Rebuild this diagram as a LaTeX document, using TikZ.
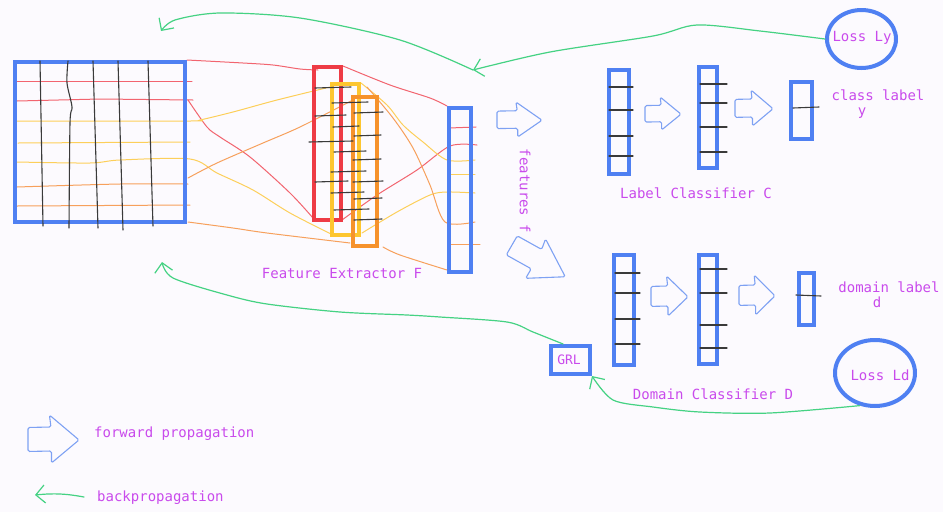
\documentclass[tikz,border=0pt]{standalone}
\usepackage{fontspec}
\setmonofont{DejaVu Sans Mono}
\usetikzlibrary{shapes.geometric,arrows.meta}
\definecolor{bblue}{HTML}{4F80F2}
\definecolor{lblue}{HTML}{7EA1F3}
\definecolor{cred}{HTML}{EE3B45}
\definecolor{tred}{HTML}{F2646F}
\definecolor{cyellow}{HTML}{FDC630}
\definecolor{tyellow}{HTML}{FCCF5A}
\definecolor{corange}{HTML}{F6922C}
\definecolor{torange}{HTML}{F7A05C}
\definecolor{cgreen}{HTML}{45D283}
\definecolor{cpurple}{HTML}{C94AEC}
\definecolor{bgc}{HTML}{FCFAFE}
\definecolor{ink}{HTML}{3A3A3A}
\tikzset{
  bbox/.style={draw=bblue, line width=4pt, inner sep=0pt},
  cbox/.style={line width=4pt, inner sep=0pt},
  lossbox/.style={ellipse, draw=bblue, line width=4pt, inner sep=0pt},
  lbl/.style={text=cpurple, font=\ttfamily\fontsize{14}{16}\selectfont, inner sep=0pt},
  tline/.style={line width=1pt, line cap=round},
  inkline/.style={draw=ink, line width=1.1pt, line cap=round},
  back/.style={draw=cgreen, line width=1.2pt, line cap=round, -{Straight Barb[length=9pt,width=18pt,line width=1.2pt]}},
  fwdarrow/.pic={\draw[draw=lblue, line width=1.1pt, line join=round, rounded corners=1.5pt]
     (0,-0.24) -- (0.45,-0.25) -- (0.42,-0.5) -- (1,0.02) -- (0.46,0.5) -- (0.46,0.25) -- (0,0.26) -- cycle;}
}
\begin{document}
\begin{tikzpicture}[x=1pt,y=-1pt]
\fill[bgc] (0,0) rectangle (943,512);
\useasboundingbox (0,0) rectangle (943,512);

% ---------- coloured thin lines ----------
% red
\draw[tline, tred] plot[smooth] coordinates {(187,60) (243,63) (273,65) (300,69) (318,70)};
\draw[tline, tred] plot[smooth] coordinates {(343,66) (390,85) (430,98) (447,106)};
\draw[tline, tred] plot[smooth] coordinates {(188,100) (207,127) (220,137) (250,157) (290,193) (313,218)};
\draw[tline, tred] plot[smooth] coordinates {(342,220) (377,195) (417,170) (450,146) (477,145)};
\draw[tline, tred] (17,81) -- (192,81);
\draw[tline, tred] (17,101) -- (100,99) -- (193,100);
\draw[tline, tred] (449,128) -- (476,127);
% yellow
\draw[tline, tyellow] plot[smooth] coordinates {(17,121) (190,121) (200,120) (233,112) (277,100) (330,87)};
\draw[tline, tyellow] plot[smooth] coordinates {(361,83) (387,105) (403,125) (423,142) (447,160) (475,160)};
\draw[tline, tyellow] (18,143) -- (190,142);
\draw[tline, tyellow] plot[smooth] coordinates {(17,162) (90,163) (120,160) (190,159) (217,173) (253,190) (290,213) (333,235)};
\draw[tline, tyellow] plot[smooth] coordinates {(362,233) (397,212) (430,195) (447,192) (475,193)};
\draw[tline, tyellow] (449,174) -- (475,174);
% orange
\draw[tline, torange] plot[smooth] coordinates {(17,187) (120,184) (188,184)};
\draw[tline, torange] plot[smooth] coordinates {(188,178) (217,163) (263,143) (300,127) (353,100)};
\draw[tline, torange] plot[smooth] coordinates {(367,87) (393,118) (413,148) (430,185) (445,222) (475,222)};
\draw[tline, torange] (17,206) -- (190,205);
\draw[tline, torange] plot[smooth] coordinates {(188,222) (233,228) (267,233) (350,243)};
\draw[tline, torange] plot[smooth] coordinates {(383,247) (400,255) (447,270)};
\draw[tline, torange] (449,244) -- (480,244);

% ---------- input grid ----------
\node[bbox, minimum width=170pt, minimum height=160pt] (grid) at (100,142) {};
\draw[inkline] (40,61) -- (43,226);
\draw[inkline] plot[smooth] coordinates {(68,61) (67,83) (72,107) (70,123) (69,228)};
\draw[inkline] (93,61) -- (98,228);
\draw[inkline] (118,61) -- (123,230);
\draw[inkline] (148,61) -- (153,226);

% ---------- conv boxes ----------
\node[cbox, draw=cred, minimum width=27pt, minimum height=153pt] (convR) at (327.5,143.5) {};
\node[cbox, draw=cyellow, minimum width=27pt, minimum height=151pt] (convY) at (345.5,159.5) {};
\node[cbox, draw=corange, minimum width=24pt, minimum height=149pt] (convO) at (365,171.5) {};
\foreach \xa/\xb/\yy in {315/351/88, 332/368/103, 315/346/116, 354/383/113, 333/359/127, 354/381/136,
  309/353/142, 334/366/152, 353/381/160, 331/366/172, 315/348/182, 353/383/182, 331/364/193,
  354/382/199, 334/369/210, 354/382/220}
  \draw[inkline] (\xa,\yy) -- (\xb,\yy-1);

% ---------- feature vector ----------
\node[bbox, minimum width=22pt, minimum height=164pt] (fvec) at (460,190) {};

\node[lbl] (fxlabel) at (342,273) {Feature Extractor F};
\node[lbl, rotate=-90] (flabel) at (525,191) {features f};

% forward arrows from features
\pic[xscale=45, yscale=35] at (497,119.5) {fwdarrow};
\pic[rotate=-30, xscale=62, yscale=44] at (512,245) {fwdarrow};

% ---------- label classifier ----------
\node[bbox, minimum width=20pt, minimum height=104pt] (C1) at (619,122) {};
\node[bbox, minimum width=18pt, minimum height=101pt] (C2) at (708,117.5) {};
\node[bbox, minimum width=21pt, minimum height=57pt] (C3) at (801.5,110.5) {};
\foreach \yy in {87,110,136,156} \draw[inkline] (609,\yy) -- (633,\yy);
\foreach \yy in {84,103,127,152} \draw[inkline] (700,\yy) -- (727,\yy);
\draw[inkline] (793,108) -- (819,107);
\pic[xscale=36, yscale=33] at (645,113.5) {fwdarrow};
\pic[xscale=38, yscale=36] at (735,108) {fwdarrow};
\node[lbl] (Clabel) at (696,193) {Label Classifier C};
\node[lbl] (clslabel) at (878,95) {class label};
\node[lbl] (ylabel) at (862,113) {y};
\node[lossbox, minimum width=69pt, minimum height=58pt] (Ly) at (861.5,39) {};
\node[lbl] (Lytext) at (862,38) {Loss Ly};

% ---------- domain classifier ----------
\node[bbox, minimum width=20pt, minimum height=110pt] (D1) at (624,310) {};
\node[bbox, minimum width=18pt, minimum height=109pt] (D2) at (708,309.5) {};
\node[bbox, minimum width=15pt, minimum height=52pt] (D3) at (806.5,299) {};
\foreach \yy in {273,293,319,344} \draw[inkline] (615,\yy) -- (640,\yy);
\foreach \yy in {269,293,325,348} \draw[inkline] (700,\yy) -- (727,\yy);
\draw[inkline] (796,295) -- (821,296);
\pic[xscale=37, yscale=40] at (651,296) {fwdarrow};
\pic[xscale=36, yscale=40] at (739,295) {fwdarrow};
\node[lbl] (Dlabel) at (713,394) {Domain Classifier D};
\node[lbl] (domlabel) at (889,287) {domain label};
\node[lbl] (dlabel) at (877,302) {d};
\node[lossbox, minimum width=80pt, minimum height=66pt] (Ld) at (875,373) {};
\node[lbl] (Ldtext) at (880,375) {Loss Ld};

\node[bbox, minimum width=39pt, minimum height=28pt] (GRL) at (570.5,360) {};
\node[lbl, font=\ttfamily\fontsize{13}{15}\selectfont] (GRLtext) at (569,360) {GRL};

% ---------- backpropagation ----------
\coordinate (m1) at (473,70);
\coordinate (tgt1) at (161,31);
\coordinate (tgt2) at (162,262);
\draw[back] plot[smooth] coordinates {(Ly.west) (760,31) (697,25) (653,36) (550,52) (m1)};
\draw[back] plot[smooth] coordinates {(m1) (400,40) (300,18) (220,13) (175,20) (tgt1)};
\draw[back] plot[smooth] coordinates {(Ld.245) (770,413) (700,412) (653,407) (613,400) (GRL.south east)};
\draw[back] plot[smooth] coordinates {(GRL.115) (533,332) (507,322) (440,317) (407,315) (340,312) (267,304) (227,295) (173,278) (tgt2)};

% ---------- legend ----------
\pic[xscale=51, yscale=48] at (28,439) {fwdarrow};
\node[lbl, anchor=west] (fwdtext) at (94,434) {forward propagation};
\coordinate (lgA) at (84,497);
\coordinate (lgB) at (35,495);
\draw[back] (lgA) to[bend right=8] (lgB);
\node[lbl, anchor=west] (backtext) at (97,498) {backpropagation};
\end{tikzpicture}
\end{document}
